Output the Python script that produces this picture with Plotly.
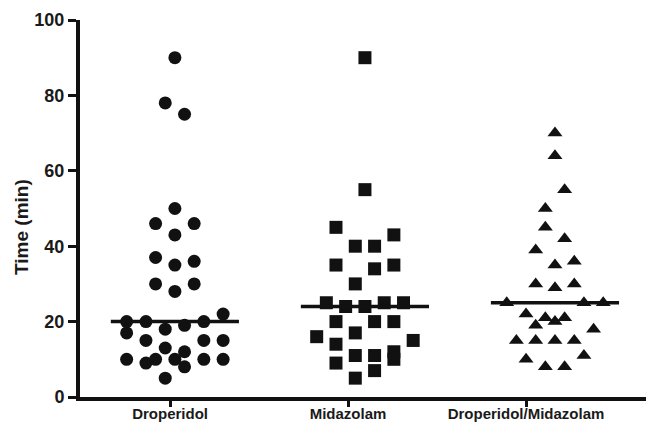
import plotly.graph_objects as go
import numpy as np

# ---- data ----
categories = ["Droperidol", "Midazolam", "Droperidol/Midazolam"]

droperidol_min = [90, 78, 75, 50, 46, 46, 43, 37, 35, 36, 30, 28, 30,
                  20, 20, 18, 19, 20, 22, 17, 15, 15, 15, 13, 12,
                  10, 9, 10, 10, 8, 10, 10, 5]
# horizontal scatter slot of each point (in half-marker widths)
droperidol_slot = [0.5, -0.5, 1.5, 0.5, -1.5, 2.5, 0.5, -1.5, 0.5, 2.5, -1.5, 0.5, 2.5,
                   -4.5, -2.5, -0.5, 1.5, 3.5, 5.5, -4.5, -2.5, 3.5, 5.5, -0.5, 1.5,
                   -4.5, -2.5, -1.5, 0.5, 1.5, 3.5, 5.5, -0.5]

midazolam_min = [90, 55, 45, 43, 40, 40, 35, 34, 35, 30,
                 25, 24, 24, 25, 25, 20, 20, 20, 17, 16, 15, 14,
                 11, 11, 12, 10, 9, 7, 5]
midazolam_slot = [1.75, 1.75, -1.25, 4.75, 0.75, 2.75, -1.25, 2.75, 4.75, 0.75,
                  -2.25, -0.25, 1.75, 3.75, 5.75, -1.25, 2.75, 4.75, 0.75, -3.25, 6.75, -1.25,
                  0.75, 2.75, 4.75, 4.75, -1.25, 2.75, 0.75]

combo_min = [70, 64, 55, 50, 45, 42, 39, 35, 36, 30, 29, 30,
             25, 25, 25, 22, 21, 21, 19, 20, 18, 15, 15, 15, 15,
             11, 10, 8, 8]
combo_slot = [3, 3, 4, 2, 2, 4, 1, 3, 5, 1, 3, 5,
              -2, 6, 8, 0, 2, 4, 1, 3, 7, -1, 1, 3, 5,
              6, 0, 2, 4]

y_ticks = [0, 20, 40, 60, 80, 100]

# ---- styling / geometry ----
SLOT_W = 9.65 / 178.0      # one slot in category units
HALF_MEDIAN = 0.36
INK = "#111111"
FONT = "Liberation Sans"

groups = [
    (droperidol_min, droperidol_slot, "circle", 13),
    (midazolam_min, midazolam_slot, "square", 13),
    (combo_min, combo_slot, "triangle-up", 13),
]

fig = go.Figure()
medians = []
for i, (vals, slots, sym, sz) in enumerate(groups):
    xs = i + np.array(slots) * SLOT_W
    fig.add_trace(go.Scatter(
        x=xs, y=vals, mode="markers",
        marker=dict(symbol=sym, size=sz, color=INK, line=dict(width=0)),
        showlegend=False, hoverinfo="y"))
    center = (xs.min() + xs.max()) / 2
    medians.append((center, float(np.median(vals))))

for center, med in medians:
    fig.add_trace(go.Scatter(
        x=[center - HALF_MEDIAN, center + HALF_MEDIAN], y=[med, med],
        mode="lines", line=dict(color=INK, width=3.5),
        showlegend=False, hoverinfo="skip"))

fig.update_layout(
    width=646, height=423,
    margin=dict(l=80, r=0, t=20, b=26),
    paper_bgcolor="white", plot_bgcolor="white",
    xaxis=dict(
        range=[-0.506, 2.674], tickmode="array",
        tickvals=list(range(len(categories))), ticktext=categories,
        showgrid=False, zeroline=False, showline=True,
        linecolor=INK, linewidth=4,
        ticks="outside", ticklen=6, tickwidth=3, tickcolor=INK,
        ticklabelstandoff=-6,
        tickfont=dict(family=FONT, size=15, color="#1a1a1a", weight="bold"),
        automargin=False,
    ),
    yaxis=dict(
        range=[0, 100], tickmode="array", tickvals=y_ticks,
        showgrid=False, zeroline=False, showline=True,
        linecolor=INK, linewidth=4,
        ticks="outside", ticklen=8, tickwidth=3, tickcolor=INK,
        ticklabelstandoff=0,
        tickfont=dict(family=FONT, size=18, color="#1a1a1a", weight="bold"),
        automargin=False,
    ),
    annotations=[dict(
        text="Time (min)", xref="paper", yref="paper",
        x=0, y=0.451, xshift=-58, xanchor="center", yanchor="middle",
        textangle=-90, showarrow=False,
        font=dict(family=FONT, size=19, color="#1a1a1a", weight="bold"),
    )],
)

fig.write_html("out.html", config={"displayModeBar": False},
               post_script="document.body.style.margin='0';document.body.style.padding='0';")
